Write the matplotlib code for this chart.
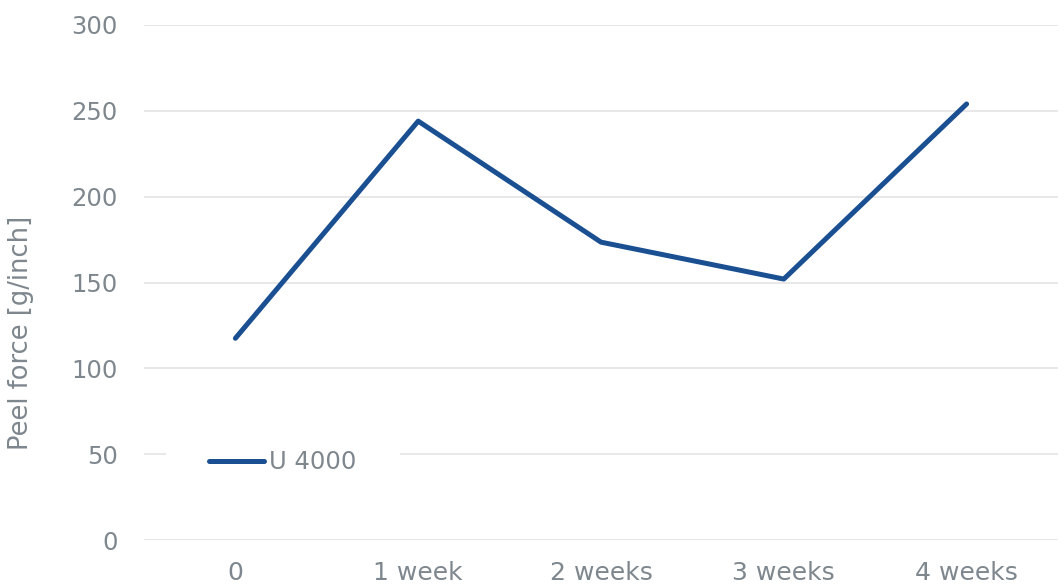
import matplotlib
matplotlib.use('Agg')
import matplotlib.pyplot as plt

# chart data
categories = ['0', '1 week', '2 weeks', '3 weeks', '4 weeks']
peel_force = [117.5, 244, 173.5, 152, 254]
series_name = 'U 4000'

text_color = '#7f878e'
line_color = '#1a4f91'

fig = plt.figure(figsize=(10.64, 5.85), dpi=100)
ax = fig.add_axes([144 / 1064, 1 - 540 / 585, (1058 - 144) / 1064, (540 - 25) / 585])

x = range(len(categories))
ax.plot(x, peel_force, color=line_color, linewidth=3.6,
        solid_capstyle='round', solid_joinstyle='round', label=series_name, zorder=3)

ax.set_xlim(-0.5, len(categories) - 0.5)
ax.set_ylim(0, 300)
ax.set_yticks(range(0, 301, 50))
ax.set_xticks(list(x))
ax.set_xticklabels(categories)

ax.grid(axis='y', color='#e6e6e6', linewidth=1.3)
ax.set_axisbelow(True)
for s in ax.spines.values():
    s.set_visible(False)
ax.tick_params(axis='y', length=0, labelsize=17.5, colors=text_color, pad=19)
ax.tick_params(axis='x', length=0, labelsize=18, colors=text_color, pad=15)

ax.set_ylabel('Peel force [g/inch]', fontsize=18.5, color=text_color)
ax.yaxis.set_label_coords(-0.12, 0.402)

leg = ax.legend(loc='center left', bbox_to_anchor=(0.0105, 0.151), fontsize=17.5,
                frameon=True, facecolor='white', edgecolor='none', framealpha=1,
                handlelength=2.25, handletextpad=0.2, borderpad=1.8, fancybox=False)
for t in leg.get_texts():
    t.set_color(text_color)

fig.savefig('out.png', dpi=100)
